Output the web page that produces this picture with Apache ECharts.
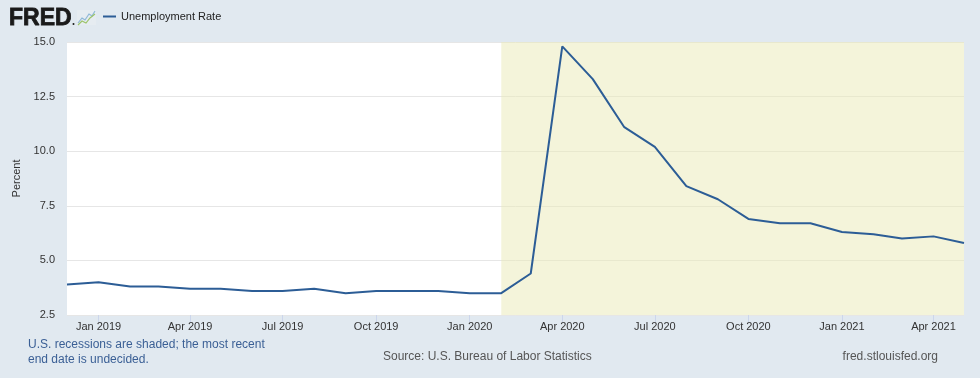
<!DOCTYPE html>
<html>
<head>
<meta charset="utf-8">
<script src="https://cdn.jsdelivr.net/npm/echarts@6/dist/echarts.min.js"></script>
<style>
html,body{margin:0;padding:0;background:#e1e9f0;}
#c{width:980px;height:378px;}
</style>
</head>
<body>
<div id="c"></div>
<script>
// Monthly dates (first of month) and unemployment rate values (%)
const months = ["2018-12-01","2019-01-01","2019-02-01","2019-03-01","2019-04-01","2019-05-01","2019-06-01","2019-07-01","2019-08-01","2019-09-01","2019-10-01","2019-11-01","2019-12-01","2020-01-01","2020-02-01","2020-03-01","2020-04-01","2020-05-01","2020-06-01","2020-07-01","2020-08-01","2020-09-01","2020-10-01","2020-11-01","2020-12-01","2021-01-01","2021-02-01","2021-03-01","2021-04-01","2021-05-01"];
const unrate = [3.9,4.0,3.8,3.8,3.7,3.7,3.6,3.6,3.7,3.5,3.6,3.6,3.6,3.5,3.5,4.4,14.8,13.3,11.1,10.2,8.4,7.8,6.9,6.7,6.7,6.3,6.2,6.0,6.1,5.8];
const xTicks = ["2019-01-01","2019-04-01","2019-07-01","2019-10-01","2020-01-01","2020-04-01","2020-07-01","2020-10-01","2021-01-01","2021-04-01"];
const yTicks = [2.5,5.0,7.5,10.0,12.5,15.0];
const recession = ["2020-02-01","2021-05-01"];
const monthNames = ["Jan","Feb","Mar","Apr","May","Jun","Jul","Aug","Sep","Oct","Nov","Dec"];

const ts = s => { const p = s.split('-'); return Date.UTC(+p[0], +p[1]-1, +p[2]); };
const data = months.map((m,i)=>[ts(m), unrate[i]]);
const tickTs = xTicks.map(ts);

const chart = echarts.init(document.getElementById('c'), null, {renderer:'canvas'});
const lineColor = '#2c5d96';
chart.setOption({
  backgroundColor: '#e1e9f0',
  animation: false,
  textStyle: {fontFamily: 'Liberation Sans, Arial, sans-serif'},
  grid: {left: 67, right: 16, top: 42, bottom: 63, show: true, backgroundColor: '#ffffff', borderWidth: 0, containLabel: false},
  legend: {
    left: 103, top: 11, padding: 0, itemWidth: 13, itemHeight: 2, icon: 'rect', itemGap: 5,
    textStyle: {fontSize: 11, color: '#222', padding: [0,0,0,0], fontFamily: 'Liberation Sans, Arial, sans-serif'},
    data: ['Unemployment Rate']
  },
  xAxis: {
    type: 'value',
    min: ts(months[0]), max: ts(months[months.length-1]),
    axisLine: {show: false},
    splitLine: {show: false},
    axisTick: {show: true, customValues: tickTs, length: 7, lineStyle: {color: '#ccd6eb'}},
    axisLabel: {
      customValues: tickTs, color: '#333', fontSize: 11, margin: 6,
      formatter: v => { const d = new Date(v); return monthNames[d.getUTCMonth()] + ' ' + d.getUTCFullYear(); }
    }
  },
  yAxis: {
    type: 'value', min: yTicks[0], max: yTicks[yTicks.length-1], interval: 2.5,
    name: 'Percent', nameLocation: 'middle', nameGap: 45, nameRotate: 90,
    nameTextStyle: {fontSize: 11, color: '#333'},
    axisLine: {show: false}, axisTick: {show: false},
    axisLabel: {color: '#333', fontSize: 11, margin: 12, formatter: v => v.toFixed(1)},
    splitLine: {show: true, lineStyle: {color: '#e6e6e6', width: 1}}
  },
  series: [{
    name: 'Unemployment Rate', type: 'line', data: data,
    showSymbol: false, symbol: 'none',
    lineStyle: {color: lineColor, width: 2},
    itemStyle: {color: lineColor},
    markArea: {
      silent: true,
      itemStyle: {color: 'rgba(233,233,181,0.5)'},
      data: [[{xAxis: ts(recession[0])}, {xAxis: ts(recession[1])}]]
    }
  }],
  graphic: [
    {type: 'text', x: 9, y: 19, style: {text: 'FRED', font: 'bold 23px "Liberation Sans", Arial, sans-serif', fill: '#1a1a1a', verticalAlign: 'middle', stroke: '#1a1a1a', lineWidth: 0.8}},
    {type: 'circle', shape: {cx: 73.5, cy: 24, r: 1}, style: {fill: '#1a1a1a'}},
    {type: 'rect', shape: {x: 77, y: 10, width: 19, height: 15}, style: {fill: '#e6ecf1'}},
    {type: 'polyline', shape: {points: [[78,23],[82,18],[85,20],[89,14],[92,16],[95,11]]}, style: {stroke: '#8fb8d8', lineWidth: 1.2, fill: null}},
    {type: 'polyline', shape: {points: [[78,25],[82,21],[86,23],[90,18],[95,14]]}, style: {stroke: '#9cc46a', lineWidth: 1.2, fill: null}},
    {type: 'text', left: 28, top: 337, style: {text: 'U.S. recessions are shaded; the most recent\nend date is undecided.', font: '12px "Liberation Sans", Arial, sans-serif', fill: '#3a5f95', lineHeight: 15}},
    {type: 'text', left: 383, top: 351, style: {text: 'Source: U.S. Bureau of Labor Statistics', font: '12px "Liberation Sans", Arial, sans-serif', fill: '#555'}},
    {type: 'text', right: 42, top: 351, style: {text: 'fred.stlouisfed.org', font: '12px "Liberation Sans", Arial, sans-serif', fill: '#555'}}
  ]
});
</script>
</body>
</html>
